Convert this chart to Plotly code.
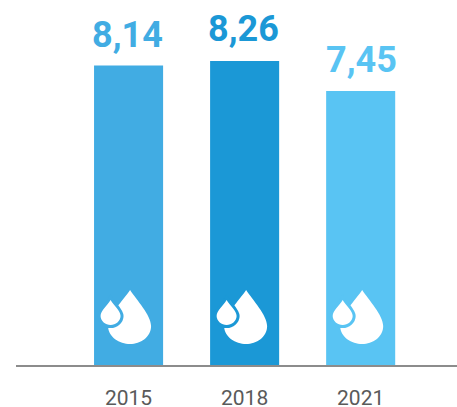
import plotly.graph_objects as go

years = ["2015", "2018", "2021"]
values = [8.14, 8.26, 7.45]
labels = ["8,14", "8,26", "7,45"]
colors = ["#41ACE3", "#1B98D6", "#59C4F3"]
label_dx = [-1, -1, 1]
label_dy = [7, 9, 8]

BIG = "M 1.5,75 C -5,65 -20.5,50 -20.5,39 C -20.5,28 -9,21 1.5,21 C 12,21 22.5,28 22.5,39 C 22.5,50 8,65 1.5,75 Z"
SMALL = "M -18,65 C -21,60 -28,54 -28,49 C -28,44 -23,40 -18,40 C -13,40 -8,44 -8,49 C -8,54 -15,60 -18,65 Z"

fig = go.Figure(go.Bar(x=[0, 1, 2], y=values, width=0.595, marker=dict(color=colors, line_width=0), hoverinfo="skip"))

for i, (v, lab, c, dx, dy) in enumerate(zip(values, labels, colors, label_dx, label_dy)):
    fig.add_annotation(x=i, y=v, text=lab, showarrow=False, yanchor="bottom", yshift=dy, xshift=dx,
                       font=dict(family="Roboto", size=36, color=c, weight=700))
    for path, fill, stroke in ((BIG, "white", 0), (SMALL, c, 6), (SMALL, "white", 0)):
        fig.add_shape(type="path", path=path, xref="x", yref="y", xsizemode="pixel", ysizemode="pixel",
                      xanchor=i, yanchor=0, fillcolor=fill, line=dict(color=c, width=stroke))

fig.update_layout(
    width=457, height=407, autosize=False, showlegend=False,
    margin=dict(l=16, r=0, t=0, b=42, autoexpand=False), plot_bgcolor="white", paper_bgcolor="white",
    xaxis=dict(range=[-0.97, 2.83], tickvals=[0, 1, 2], ticktext=years, showgrid=False, zeroline=False,
               automargin=False,
               showline=True, linecolor="#8C8C8C", linewidth=1.5, ticks="", ticklabelstandoff=13,
               tickfont=dict(family="Roboto", size=21, color="#5A5A5A")),
    yaxis=dict(range=[0, 9.92], visible=False, showgrid=False, zeroline=False),
)
fig.write_html("out.html", config={"displayModeBar": False},
               post_script="document.body.style.margin='0';")
